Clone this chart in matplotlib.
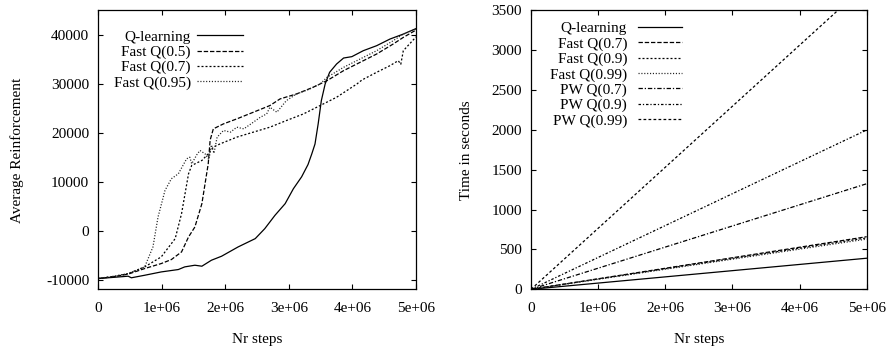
import matplotlib
matplotlib.use('Agg')
import matplotlib.pyplot as plt
import numpy as np

plt.rcParams['font.family'] = ['Liberation Serif', 'DejaVu Serif']
plt.rcParams['font.size'] = 11
plt.rcParams['axes.unicode_minus'] = False

# ---- left panel: average reinforcement (x in millions of steps) ----
q_x = [0, 0.25, 0.47, 0.52, 0.73, 0.99, 1.26, 1.36, 1.52, 1.63, 1.78, 1.94, 2.20, 2.47,
       2.62, 2.78, 2.94, 3.07, 3.20, 3.30, 3.36, 3.41, 3.46, 3.51, 3.57, 3.64, 3.75, 3.86,
       3.99, 4.17, 4.38, 4.59, 4.80, 5.0]
q_y = [-9800, -9550, -9320, -9650, -9130, -8450, -7960, -7420, -7080, -7280, -6060, -5240,
       -3340, -1640, 400, 3120, 5500, 8560, 11000, 13500, 15700, 17700, 21820, 26580, 29980,
       32360, 34060, 35280, 35560, 36780, 37800, 39160, 40180, 41300]

f5_x = [0, 0.25, 0.47, 0.73, 0.99, 1.15, 1.31, 1.42, 1.52, 1.63, 1.68, 1.73, 1.76, 1.81,
        1.97, 2.18, 2.44, 2.70, 2.86, 3.12, 3.38, 3.60, 3.86, 4.12, 4.38, 4.64, 4.80, 5.0]
f5_y = [-9800, -9400, -8900, -7760, -6740, -5920, -4360, -1300, 740, 5500, 9580, 13660,
        18500, 20800, 21820, 22840, 24200, 25560, 26920, 27940, 29300, 30660, 32700, 34400,
        36100, 38140, 39500, 41000]

f7_x = [0, 0.25, 0.47, 0.73, 0.99, 1.21, 1.31, 1.42, 1.47, 1.63, 1.73, 1.81, 1.92, 2.18,
        2.44, 2.70, 2.96, 3.23, 3.49, 3.75, 3.91, 4.07, 4.15, 4.38, 4.59, 4.72, 4.76, 4.80, 5.0]
f7_y = [-9800, -9400, -8800, -7420, -5380, -1640, 3460, 11620, 13320, 14340, 15700, 17070,
        17750, 19110, 20130, 21140, 22500, 23860, 25560, 27260, 28620, 29980, 30800, 32360,
        33720, 34740, 34000, 36780, 39600]

f95_x = [0, 0.25, 0.47, 0.73, 0.86, 0.94, 1.05, 1.15, 1.26, 1.39, 1.44, 1.47, 1.55, 1.60,
         1.68, 1.74, 1.78, 1.82, 1.87, 1.97, 2.08, 2.18, 2.29, 2.44, 2.55, 2.65, 2.70, 2.81,
         2.96, 3.12, 3.33, 3.49, 3.60, 3.86, 4.12, 4.38, 4.64, 4.80, 5.0]
f95_y = [-9800, -9300, -8780, -7420, -3340, 2780, 8220, 10600, 11620, 14680, 15000, 13660,
         15500, 16380, 15700, 14500, 17500, 15800, 19110, 20470, 20130, 21140, 20800, 22160,
         23180, 23860, 25220, 24200, 26580, 27940, 28960, 29980, 31340, 33380, 35080, 36780,
         38820, 40180, 41200]

# ---- right panel: time in seconds ----
t_x = [0, 1, 2, 3, 4, 5]
t_q = [0, 78, 156, 234, 312, 390]
t_f7 = [0, 132, 264, 396, 528, 660]
t_f9 = [0, 129, 258, 387, 516, 645]
t_f99 = [0, 126, 252, 378, 504, 630]
t_pw7 = [0, 265, 530, 795, 1060, 1325]
t_pw9 = [0, 400, 800, 1200, 1600, 2000]
t_pw99 = [0, 766, 1532, 2298, 3064, 3830]

xticks = [0, 1, 2, 3, 4, 5]
xticklabels = ['0', '1e+06', '2e+06', '3e+06', '4e+06', '5e+06']

fig = plt.figure(figsize=(8.88, 3.46), dpi=100)
ax1 = fig.add_axes([0.1107, 0.1639, 0.3578, 0.8058])
ax2 = fig.add_axes([0.598, 0.1639, 0.378, 0.8058])

lw = 0.9
m = 1e6
dot = (0, (0.9, 1.4))
ax1.plot(np.array(q_x) * m, q_y, color='k', lw=lw, label='Q-learning')
ax1.plot(np.array(f5_x) * m, f5_y, color='k', lw=lw, ls=(0, (3.5, 1.5)), label='Fast Q(0.5)')
ax1.plot(np.array(f7_x) * m, f7_y, color='k', lw=lw, ls=(0, (1.6, 1.6)), label='Fast Q(0.7)')
ax1.plot(np.array(f95_x) * m, f95_y, color='#222222', lw=lw, ls=dot, label='Fast Q(0.95)')

tx = np.array(t_x) * m
ax2.plot(tx, t_q, color='k', lw=lw, label='Q-learning')
ax2.plot(tx, t_f7, color='k', lw=lw, ls=(0, (3.5, 1.5)), label='Fast Q(0.7)')
ax2.plot(tx, t_f9, color='k', lw=lw, ls=(0, (1.6, 1.6)), label='Fast Q(0.9)')
ax2.plot(tx, t_f99, color='#222222', lw=lw, ls=dot, label='Fast Q(0.99)')
ax2.plot(tx, t_pw7, color='k', lw=lw, ls=(0, (3.5, 1.5, 1, 1.5)), label='PW Q(0.7)')
ax2.plot(tx, t_pw9, color='k', lw=lw, ls=(0, (2, 1.5, 1, 1.5)), label='PW Q(0.9)')
ax2.plot(tx, t_pw99, color='k', lw=lw, ls=(0, (2.2, 1.8)), label='PW Q(0.99)')

for ax in (ax1, ax2):
    ax.set_xlim(0, 5e6)
    ax.set_xticks([v * m for v in xticks])
    ax.set_xticklabels(xticklabels)
    ax.tick_params(direction='in', length=3.6, width=0.8, top=True, right=True)
    ax.tick_params(axis='x', pad=9)
    ax.tick_params(axis='y', pad=6.5)
    ax.set_xlabel('Nr steps', labelpad=13)
    for s in ax.spines.values():
        s.set_linewidth(0.9)

ax1.set_ylim(-12000, 45000)
ax1.set_yticks([-10000, 0, 10000, 20000, 30000, 40000])
ax1.set_ylabel('Average Reinforcement', labelpad=16)
ax2.set_ylim(0, 3500)
ax2.set_yticks(range(0, 3501, 500))
ax2.set_ylabel('Time in seconds', labelpad=13)

ax1.legend(loc='upper right', bbox_to_anchor=(0.455, 0.93), frameon=False,
           markerfirst=False, handlelength=3.0, handletextpad=0.4,
           labelspacing=0.1, borderpad=0, borderaxespad=0)
ax2.legend(loc='upper right', bbox_to_anchor=(0.45, 0.96), frameon=False,
           markerfirst=False, handlelength=2.9, handletextpad=0.7,
           labelspacing=0.1, borderpad=0, borderaxespad=0)

fig.savefig('out.png', dpi=100)
